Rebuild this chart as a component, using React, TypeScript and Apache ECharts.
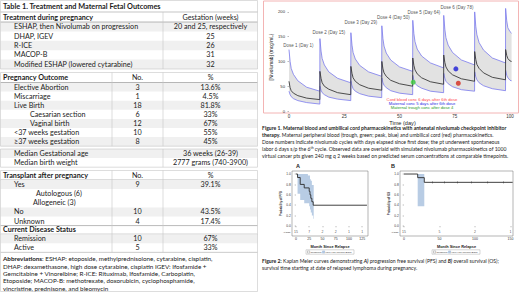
import React, { useEffect, useRef } from "react";
import * as echarts from "echarts";

// ---------------- Table 1 data ----------------
const tableTitle = "Table 1. Treatment and Maternal Fetal Outcomes";
const treatmentHeader = ["Treatment during pregnancy", "Gestation (weeks)"];
const treatmentNames = [
  "ESHAP, then Nivolumab on progression",
  "DHAP, IGEV",
  "R-ICE",
  "MACOP-B",
  "Modified ESHAP (lowered cytarabine)",
];
const treatmentWeeks = ["20 and 25, respectively", "25", "26", "31", "32"];
const outcomeHeader = ["Pregnancy Outcome", "No.", "%"];
const outcomeNames = [
  "Elective Abortion",
  "Miscarriage",
  "Live Birth",
  "Caesarian section",
  "Vaginal birth",
  "<37 weeks gestation",
  "≥37 weeks gestation",
];
const outcomeCounts = ["3", "1", "18", "6", "12", "10", "8"];
const outcomePcts = ["13.6%", "4.5%", "81.8%", "33%", "67%", "55%", "45%"];
const outcomeLevels = [1, 1, 1, 2, 2, 1, 1];
const medianNames = ["Median Gestational age", "Median birth weight"];
const medianValues = ["36 weeks (26-39)", "2777 grams (740-3900)"];
const transplantHeader = ["Transplant after pregnancy", "No.", "%"];
const transplantNames = ["Yes", "No", "Unknown"];
const transplantCounts = ["9", "10", "4"];
const transplantPcts = ["39.1%", "43.5%", "17.4%"];
const transplantTypes = ["Autologous (6)", "Allogeneic (3)"];
const statusHeader = "Current Disease Status";
const statusNames = ["Remission", "Active"];
const statusCounts = ["10", "5"];
const statusPcts = ["67%", "33%"];
const abbreviationLines = [
  "{b|Abbreviations}: ESHAP: etoposide, methylprednisolone, cytarabine, cisplatin,",
  "DHAP: dexamethasone, high dose cytarabine, cisplatin IGEV: Ifosfamide +",
  "Gemcitabine + Vinorelbine; R-ICE: Rituximab, Ifosfamide, Carboplatin,",
  "Etoposide; MACOP-B: methotrexate, doxorubicin, cyclophosphamide,",
  "vincristine, prednisone, and bleomycin",
];

// ---------------- Figure 1 data (PK) ----------------
const doseDays = [0, 14, 28, 42, 56, 70, 84, 98];
const cycleOffsets = [0, 0.5, 1, 2, 4, 8, 13.95];
const lastCycleOffsets = [0, 0.5, 1, 2, 2.7];
const upper95 = [
  [124, 100, 86, 74, 61, 48, 40],
  [146, 121, 106, 93, 79, 66, 57],
  [158, 133, 118, 105, 92, 79, 70],
  [172, 146, 131, 117, 103, 89, 80],
  [183, 156, 140, 125, 111, 97, 87],
  [193, 165, 148, 133, 118, 103, 93],
  [200, 171, 154, 138, 123, 107, 97],
  [207, 182, 168, 160, 157],
];
const median50 = [
  [60, 47, 41, 36, 31, 26, 23],
  [80, 66, 57, 50, 44, 37, 33],
  [90, 76, 67, 60, 53, 46, 42],
  [100, 85, 77, 70, 62, 55, 50],
  [107, 92, 83, 75, 67, 59, 54],
  [113, 98, 89, 81, 73, 65, 60],
  [120, 104, 94, 86, 77, 68, 63],
  [124, 112, 106, 101, 100],
];
const lower5 = [
  [40, 33, 29, 25, 21, 17, 14],
  [50, 42, 37, 33, 28, 24, 21],
  [60, 51, 45, 40, 35, 30, 27],
  [67, 57, 52, 47, 41, 36, 33],
  [72, 62, 56, 51, 46, 40, 37],
  [76, 66, 60, 55, 49, 43, 40],
  [79, 69, 63, 57, 51, 45, 41],
  [82, 72, 67, 62, 61],
];
const doseLabels = [
  "Dose 1 (Day 1)",
  "Dose 2 (Day 15)",
  "Dose 3 (Day 29)",
  "Dose 4 (Day 50)",
  "Dose 5 (Day 64)",
  "Dose 6 (Day 78)",
];
const doseLabelX = [4.2, 18, 32.5, 47.2, 61, 76];
const doseLabelY = [133, 159, 178, 189, 199, 208];
const observedNames = ["Maternal trough", "Maternal peak", "Cord blood"];
const observedX = [56.2, 75.5, 76.6];
const observedY = [58, 85, 56];
const observedColors = ["#3fcf3f", "#1c1cd6", "#d42a1e"];
const pkLegendLines = [
  "Cord blood conc 6 days after 6th dose",
  "Maternal conc 5 days after 6th dose",
  "Maternal trough conc after dose 4",
];
const pkLegendColors = ["#ff4a4a", "#2a2ae6", "#1f9a1f"];
const pkXTicks = [0, 25, 50, 75, 100];
const pkYTicks = [0, 50, 100, 150, 200];

const fig1Caption = [
  "{b|Figure 1. Maternal blood and umbilical cord pharmacokinetics with antenatal nivolumab checkpoint inhibitor}",
  "{b|therapy.} Maternal peripheral blood (trough, green; peak, blue) and umbilical cord (red) pharmacokinetics.",
  "Dose numbers indicate nivolumab cycles with days elapsed since first dose; the pt underwent spontaneous",
  "labor 6 days s/p the 6{sup|th} cycle. Observed data are overlaid with simulated nivolumab pharmacokinetics of 1000",
  "virtual cancer pts given 240 mg q 2 weeks based on predicted serum concentrations at comparable timepoints.",
];

// ---------------- Figure 2 data (KM) ----------------
const pfsTimes = [0, 3, 8, 15.6, 25, 26.5, 28, 30, 32.5, 134];
const pfsSurv = [1, 0.933, 0.8, 0.733, 0.667, 0.6, 0.533, 0.467, 0.4, 0.4];
const pfsBandTimes = [0, 3, 8, 15.6, 22.5, 25, 26.5, 28, 30, 32.5, 33.5];
const pfsBandUpper = [1, 1, 1, 1, 0.97, 0.97, 0.9, 0.87, 0.79, 0.79, 0.79];
const pfsBandLower = [1, 0.62, 0.5, 0.44, 0.44, 0.38, 0.32, 0.26, 0.2, 0.14, 0.14];
const pfsAtRiskTimes = [0, 25, 50, 75, 100, 125];
const pfsAtRisk = ["15", "7", "2", "2", "1", "1"];
const pfsXTicks = [0, 25, 50, 75, 100, 125];

const osTimes = [0, 19.3, 28.6, 153];
const osSurv = [1, 0.93, 0.84, 0.84];
const osBandTimes = [19.3, 28.6];
const osBandUpper = [1, 1];
const osBandLower = [0.38, 0.38];
const osCensorTimes = [40, 57, 75, 95, 118, 140];
const osAtRiskTimes = [0, 50, 100, 150];
const osAtRisk = ["15", "5", "2", "1"];
const osXTicks = [0, 50, 100, 150];
const kmYTicks = [0, 0.2, 0.4, 0.6, 0.8, 1.0];

const fig2Caption = [
  "{b|Figure 2:} Kaplan Meier curves demonstrating {bi|A)} progression free survival (PFS) and {bi|B)} overall survival (OS);",
  "survival time starting at date of relapsed lymphoma during pregnancy.",
];

// ---------------- layout constants ----------------
const TW = 258;
const COL_A = 112;
const COL_B = 163;
const TF = "Lato";
const AF = "Liberation Sans";
const CAP_X = 262;
const TS = 7.2; // table font size

function t(text: string, x: number, y: number, o: any = {}) {
  const style: any = {
    text,
    font: o.font || `${TS}px ${TF}`,
    fill: o.fill || "#1b1b1b",
    align: o.align || "left",
    textAlign: o.align || "left",
    verticalAlign: "middle",
    textVerticalAlign: "middle",
  };
  if (o.rich) style.rich = o.rich;
  const el: any = { type: "text", x, y, silent: true, style };
  if (o.rotation) el.rotation = o.rotation;
  return el;
}

function buildTable() {
  const G: any[] = [];
  const LINE = "#c6c6c6";
  const DARK = "#8a8a8a";
  const STRIPE = "#f0f0f0";
  const bold = `bold ${TS}px ${TF}`;
  const stripe = (y: number, h: number) =>
    G.push({ type: "rect", silent: true, shape: { x: 0.5, y, width: TW - 1, height: h }, style: { fill: STRIPE } });
  const hline = (y: number, c = LINE) =>
    G.push({ type: "line", silent: true, shape: { x1: 0.5, y1: y, x2: TW - 0.5, y2: y }, style: { stroke: c, lineWidth: 0.6 } });
  const vline = (x: number, y1: number, y2: number) =>
    G.push({ type: "line", silent: true, shape: { x1: x, y1, x2: x, y2 }, style: { stroke: LINE, lineWidth: 0.6 } });
  const box = (y1: number, y2: number) =>
    G.push({ type: "rect", silent: true, shape: { x: 0.5, y: y1, width: TW - 1, height: y2 - y1 }, style: { fill: "none", stroke: LINE, lineWidth: 0.6 } });
  const midB = (COL_B + TW) / 2;
  const midA = (COL_A + COL_B) / 2;

  // title
  box(0.5, 12);
  G.push(t(tableTitle, 3, 6.4, { font: `bold 7.3px ${TF}` }));

  // block 1
  let y0 = 12;
  let R = 9.4;
  treatmentNames.forEach((_, i) => { if (i % 2 === 0) stripe(y0 + 10 + i * R, R); });
  G.push(t(treatmentHeader[0], 3, y0 + 5, { font: bold }));
  G.push(t(treatmentHeader[1], midB, y0 + 5, { align: "center" }));
  hline(y0 + 10, DARK);
  treatmentNames.forEach((n, i) => {
    const cy = y0 + 10 + i * R + R / 2;
    G.push(t(n, 14, cy));
    G.push(t(treatmentWeeks[i], midB, cy, { align: "center" }));
  });
  const b1end = y0 + 10 + treatmentNames.length * R;
  vline(COL_B, y0, b1end);
  box(y0, b1end);

  // block 2
  y0 = 72.5;
  R = 9.1;
  outcomeNames.forEach((_, i) => { if (i % 2 === 0) stripe(y0 + 10 + i * R, R); });
  G.push(t(outcomeHeader[0], 3, y0 + 5, { font: bold }));
  G.push(t(outcomeHeader[1], midA, y0 + 5, { align: "center" }));
  G.push(t(outcomeHeader[2], midB, y0 + 5, { align: "center" }));
  hline(y0 + 10, DARK);
  outcomeNames.forEach((n, i) => {
    const cy = y0 + 10 + i * R + R / 2;
    G.push(t(n, outcomeLevels[i] === 2 ? 30 : 14, cy));
    G.push(t(outcomeCounts[i], midA, cy, { align: "center" }));
    G.push(t(outcomePcts[i], midB, cy, { align: "center" }));
  });
  const b2end = y0 + 10 + outcomeNames.length * R;
  vline(COL_A, y0, b2end);
  vline(COL_B, y0, b2end);
  box(y0, b2end);

  // block 3
  y0 = 149;
  stripe(y0, R);
  medianNames.forEach((n, i) => {
    const cy = y0 + i * R + R / 2;
    G.push(t(n, 14, cy));
    G.push(t(medianValues[i], midB, cy, { align: "center" }));
  });
  vline(COL_B, y0, y0 + 2 * R);
  box(y0, y0 + 2 * R);

  // block 4
  y0 = 170.5;
  G.push(t(transplantHeader[0], 3, y0 + 4.8, { font: bold }));
  G.push(t(transplantHeader[1], midA, y0 + 4.8, { align: "center" }));
  G.push(t(transplantHeader[2], midB, y0 + 4.8, { align: "center" }));
  hline(y0 + 9.5, DARK);
  let cy = y0 + 9.5;
  stripe(cy, R);
  G.push(t(transplantNames[0], 14, cy + R / 2));
  G.push(t(transplantCounts[0], midA, cy + R / 2, { align: "center" }));
  G.push(t(transplantPcts[0], midB, cy + R / 2, { align: "center" }));
  cy += R;
  G.push(t(transplantTypes[0], 36, cy + 4.8));
  G.push(t(transplantTypes[1], 33, cy + 13.3));
  cy += 18.3;
  [1, 2].forEach((k, j) => {
    if (j === 0) stripe(cy, R);
    G.push(t(transplantNames[k], 14, cy + R / 2));
    G.push(t(transplantCounts[k], midA, cy + R / 2, { align: "center" }));
    G.push(t(transplantPcts[k], midB, cy + R / 2, { align: "center" }));
    cy += R;
  });
  hline(cy, DARK);
  G.push(t(statusHeader, 3, cy + 4.3, { font: bold }));
  cy += 8.6;
  hline(cy, DARK);
  statusNames.forEach((n, i) => {
    if (i === 0) stripe(cy, R);
    G.push(t(n, 14, cy + R / 2));
    G.push(t(statusCounts[i], midA, cy + R / 2, { align: "center" }));
    G.push(t(statusPcts[i], midB, cy + R / 2, { align: "center" }));
    cy += R;
  });
  vline(COL_A, y0, cy);
  vline(COL_B, y0, cy);
  box(y0, cy);

  // abbreviations
  const a0 = cy;
  abbreviationLines.forEach((l, i) => {
    G.push(
      t(l, 3, a0 + 6.5 + i * 7.3, {
        font: `6.3px ${TF}`,
        rich: { b: { font: `bold 6.3px ${TF}` } },
      })
    );
  });
  box(a0, 291.5);
  return G;
}

function buildCaptions() {
  const G: any[] = [];
  const fs = 5.1;
  const reg = `${fs}px ${TF}`;
  const rich = {
    b: { font: `bold ${fs}px ${TF}` },
    bi: { font: `italic bold ${fs}px ${TF}` },
    sup: { font: `3.4px ${TF}`, verticalAlign: "top" },
  };
  // pink frame of figure 1
  G.push({ type: "rect", silent: true, z: -1, shape: { x: 263.5, y: 1, width: 255, height: 112 }, style: { fill: "none", stroke: "#f3b4b4", lineWidth: 1 } });
  fig1Caption.forEach((l, i) => G.push(t(l, CAP_X, 128 + i * 7, { font: reg, rich })));
  fig2Caption.forEach((l, i) => G.push(t(l, CAP_X, 260.5 + i * 7, { font: `5.1px ${TF}`, rich: { b: { font: `bold 5.1px ${TF}` }, bi: { font: `italic bold 5.1px ${TF}` } } })));
  // PK legend texts
  pkLegendLines.forEach((l, i) =>
    G.push(t(l, 422, 99.5 + i * 4.2, { font: `4.2px ${AF}`, fill: pkLegendColors[i], align: "center" }))
  );
  // panel labels
  G.push(t("A", 296, 166, { font: `bold 5.5px ${AF}` }));
  G.push(t("B", 391, 166, { font: `bold 5.5px ${AF}` }));
  // at risk labels
  G.push(t("At Risk", 290.5, 232, { font: `2.4px ${AF}`, align: "right" }));
  G.push(t("At Risk", 398.5, 232, { font: `2.4px ${AF}`, align: "right" }));
  // KM legends
  const legend = (cx: number, y: number, w: number) => {
    const x = cx - w / 2;
    const fsL = 2.5;
    G.push({ type: "rect", silent: true, shape: { x, y: y - 2.2, width: w, height: 4.4 }, style: { fill: "#fff", stroke: "#999", lineWidth: 0.4 } });
    G.push({ type: "rect", silent: true, shape: { x: x + 1.5, y: y - 1.1, width: 2.2, height: 2.2 }, style: { fill: "#fff", stroke: "#555", lineWidth: 0.3 } });
    G.push(t("Censored", x + 4.5, y, { font: `${fsL}px ${AF}`, fill: "#333" }));
    G.push({ type: "rect", silent: true, shape: { x: x + 16.5, y: y - 1.1, width: 2.2, height: 2.2 }, style: { fill: "#b8cce4", stroke: "#7f9cc7", lineWidth: 0.3 } });
    G.push(t("95% Hall-Wellner Band", x + 19.6, y, { font: `${fsL}px ${AF}`, fill: "#333" }));
  };
  legend(330, 252, 48);
  legend(456, 252, 48);
  return G;
}

const pkPoints = (vals: number[][]) =>
  doseDays.flatMap((d, i) =>
    (i === doseDays.length - 1 ? lastCycleOffsets : cycleOffsets).map((o, j) => [d + o, vals[i][j]])
  );

// step-expanded polygon outline for a KM band
const stepOutline = (xs: number[], ys: number[]) => {
  const out: number[][] = [];
  xs.forEach((x, i) => {
    if (i > 0) out.push([x, ys[i - 1]]);
    out.push([x, ys[i]]);
  });
  return out;
};

const bandSeries = (axisIndex: number, upper: number[][], lower: number[][], color: string) => ({
  type: "custom",
  xAxisIndex: axisIndex,
  yAxisIndex: axisIndex,
  silent: true,
  z: 1,
  data: [upper[0]],
  renderItem: (_params: any, api: any) => {
    const pts = [...upper, ...lower.slice().reverse()].map((p) => api.coord(p));
    return { type: "polygon", shape: { points: pts }, style: { fill: color } };
  },
});

export default function App() {
  const ref = useRef<HTMLDivElement>(null);
  useEffect(() => {
    if (!ref.current) return;
    const chart = echarts.init(ref.current, undefined, { renderer: "svg" });

    const lowerPts = pkPoints(lower5);
    const upperPts = pkPoints(upper95);
    const medPts = pkPoints(median50);

    const kmAxisLabel = (vals: number[]) => ({
      customValues: vals,
      fontSize: 3.5,
      color: "#333",
      margin: 1.3,
      fontFamily: AF,
    });

    const stepPts = (xs: number[], ys: number[]) => xs.map((x, i) => [x, ys[i]]);
    const labelSeries = (xAxisIndex: number, xs: number[], ys: number[], names: string[], fs: number, color: string) => ({
      type: "scatter",
      xAxisIndex,
      yAxisIndex: xAxisIndex,
      symbolSize: 1,
      itemStyle: { color: "rgba(0,0,0,0)" },
      silent: true,
      z: 10,
      data: xs.map((x, i) => ({ value: [x, ys[i]], name: names[i] })),
      label: { show: true, position: "inside", formatter: "{b}", fontSize: fs, color, fontFamily: AF },
    });

    const kmX = (gridIndex: number, min: number, max: number, ticks: number[]) => ({
      type: "value", gridIndex, min, max,
      axisLine: { show: false }, splitLine: { show: false },
      axisTick: { show: true, customValues: ticks, length: 1.3, lineStyle: { color: "#555", width: 0.4 } },
      axisLabel: kmAxisLabel(ticks),
      name: "Month Since Relapse", nameLocation: "middle", nameGap: 8,
      nameTextStyle: { fontSize: 3.9, fontWeight: "bold", color: "#222", fontFamily: AF },
    });
    const kmY = (gridIndex: number, name: string) => ({
      type: "value", gridIndex, min: -0.192, max: 1.058,
      axisLine: { show: false }, splitLine: { show: false },
      axisTick: { show: true, customValues: kmYTicks, length: 1.3, lineStyle: { color: "#555", width: 0.4 } },
      axisLabel: { ...kmAxisLabel(kmYTicks), fontSize: 3.2, formatter: (v: number) => v.toFixed(1) },
      name, nameLocation: "middle", nameGap: 8.2,
      nameTextStyle: { fontSize: 2.9, fontWeight: "bold", color: "#222", fontFamily: AF },
    });

    const option: any = {
      animation: false,
      backgroundColor: "#ffffff",
      textStyle: { fontFamily: AF },
      grid: [
        { left: 287, top: 2, width: 231, height: 110, show: false, outerBoundsMode: "none" },
        { left: 292, top: 171, width: 76, height: 65, show: true, borderColor: "#6a6a6a", borderWidth: 0.5, outerBoundsMode: "none" },
        { left: 400, top: 171, width: 113, height: 65, show: true, borderColor: "#6a6a6a", borderWidth: 0.5, outerBoundsMode: "none" },
      ],
      xAxis: [
        {
          type: "value", gridIndex: 0, min: -0.9, max: 103.6,
          axisLine: { show: false }, splitLine: { show: false },
          axisTick: { show: false },
          axisLabel: { customValues: pkXTicks, fontSize: 4.5, color: "#333", margin: 2 },
          name: "Time (day)", nameLocation: "middle", nameGap: 6.5,
          nameTextStyle: { fontSize: 5.6, color: "#222", fontFamily: AF },
        },
        kmX(1, -7.5, 136, pfsXTicks),
        kmX(2, -5.6, 153.5, osXTicks),
      ],
      yAxis: [
        {
          type: "value", gridIndex: 0, min: -2, max: 220,
          axisLine: { show: false }, splitLine: { show: false },
          axisTick: { show: true, customValues: pkYTicks, length: 1.5, lineStyle: { color: "#777", width: 0.5 } },
          axisLabel: { customValues: pkYTicks, fontSize: 4.2, color: "#333", margin: 2 },
          name: "[Nivolumab] (mcg/mL)", nameLocation: "middle", nameGap: 13.5,
          nameTextStyle: { fontSize: 4.8, color: "#222", fontFamily: AF },
        },
        kmY(1, "Probability of PFS"),
        kmY(2, "Probability of OS"),
      ],
      series: [
        // PK band and lines
        bandSeries(0, upperPts, lowerPts, "#e2e2e2"),
        { type: "line", xAxisIndex: 0, yAxisIndex: 0, z: 2, data: upperPts, symbol: "none", lineStyle: { width: 0.8, color: "#7a7aee" }, silent: true },
        { type: "line", xAxisIndex: 0, yAxisIndex: 0, z: 2, data: lowerPts, symbol: "none", lineStyle: { width: 0.8, color: "#7a7aee" }, silent: true },
        { type: "line", xAxisIndex: 0, yAxisIndex: 0, z: 3, data: medPts, symbol: "none", lineStyle: { width: 0.9, color: "#3a3a3a" }, silent: true },
        {
          type: "scatter", xAxisIndex: 0, yAxisIndex: 0, symbolSize: 5, z: 5,
          data: observedX.map((x, i) => ({ value: [x, observedY[i]], name: observedNames[i], itemStyle: { color: observedColors[i] } })),
        },
        labelSeries(0, doseLabelX, doseLabelY, doseLabels, 4.5, "#222"),

        // KM A
        bandSeries(1, stepOutline(pfsBandTimes, pfsBandUpper), stepOutline(pfsBandTimes, pfsBandLower), "#b8cce4"),
        { type: "line", xAxisIndex: 1, yAxisIndex: 1, z: 3, step: "end", data: stepPts(pfsTimes, pfsSurv), symbol: "none", lineStyle: { width: 0.9, color: "#2b2b2b" }, silent: true },
        labelSeries(1, pfsAtRiskTimes, pfsAtRiskTimes.map(() => -0.115), pfsAtRisk, 3.5, "#222"),

        // KM B
        bandSeries(2, stepOutline(osBandTimes, osBandUpper), stepOutline(osBandTimes, osBandLower), "#b8cce4"),
        { type: "line", xAxisIndex: 2, yAxisIndex: 2, z: 3, step: "end", data: stepPts(osTimes, osSurv), symbol: "none", lineStyle: { width: 0.9, color: "#2b2b2b" }, silent: true },
        {
          type: "scatter", xAxisIndex: 2, yAxisIndex: 2, symbol: "rect", symbolSize: [0.5, 2.4], silent: true, z: 4,
          itemStyle: { color: "#2b2b2b" },
          data: osCensorTimes.map((x) => [x, osSurv[osSurv.length - 1]]),
        },
        labelSeries(2, osAtRiskTimes, osAtRiskTimes.map(() => -0.115), osAtRisk, 3.5, "#222"),
      ],
      graphic: { elements: [...buildTable(), ...buildCaptions()] },
    };
    chart.setOption(option);
    return () => chart.dispose();
  }, []);
  return <div ref={ref} style={{ position: "absolute", left: 0, top: 0, width: 520, height: 292 }} />;
}
